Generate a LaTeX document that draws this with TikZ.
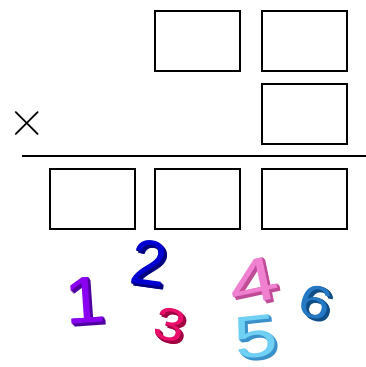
\documentclass[tikz,border=0pt]{standalone}
\usepackage{fontspec}
\newfontfamily\digitfont{Liberation Sans}
\begin{document}
\begin{tikzpicture}[x=1pt,y=-1pt,
  slot/.style={draw=black,line width=1.8pt,minimum width=85pt,minimum height=60pt,inner sep=0pt,anchor=north west},
  dig/.style={inner sep=0pt,font=\digitfont}]
\useasboundingbox (0,0) rectangle (366,367);
% boxes
\node[slot] (a1) at (154,10) {};
\node[slot] (a2) at (261,10) {};
\node[slot] (b2) at (261,83) {};
\node[slot] (c0) at (49,168) {};
\node[slot] (c1) at (154,168) {};
\node[slot] (c2) at (261,168) {};
\coordinate (l0) at (22,156);
\coordinate (l1) at (366,156);
\draw[line width=1.6pt] (l0) -- (l1);
\node[inner sep=0pt,font=\fontsize{52}{52}\selectfont] (times) at (27,124) {×};
% digits with extrusion
\newcommand\xdigit[9]{% name, x, y, size, rotate, front, side, text, xscale
  \foreach \k in {5,4,3,2,1}{
    \node[dig,text=#7,rotate=#5,xscale=#9,font=\digitfont\fontsize{#4}{#4}\selectfont] (#1s\k) at ({#2+0.6*\k},{#3+0.6*\k}) {#8};
  }
  \node[dig,text=#6,rotate=#5,xscale=#9,font=\digitfont\fontsize{#4}{#4}\selectfont] (#1) at (#2,#3) {#8};
}
\definecolor{p1}{HTML}{8A00F0}\definecolor{p1s}{HTML}{5000A0}
\definecolor{p2}{HTML}{0000D0}\definecolor{p2s}{HTML}{000080}
\definecolor{p3}{HTML}{E8106A}\definecolor{p3s}{HTML}{A00040}
\definecolor{p4}{HTML}{F080D0}\definecolor{p4s}{HTML}{C04C98}
\definecolor{p5}{HTML}{70D0F4}\definecolor{p5s}{HTML}{3A90C8}
\definecolor{p6}{HTML}{2478C4}\definecolor{p6s}{HTML}{104E88}
\xdigit{n1}{85}{300}{66}{4}{p1}{p1s}{1}{1.1}
\xdigit{n2}{149}{263}{64}{-8}{p2}{p2s}{2}{1}
\xdigit{n3}{170}{325}{46}{-14}{p3}{p3s}{3}{1.2}
\xdigit{n4}{254}{281}{62}{12}{p4}{p4s}{4}{1.45}
\xdigit{n5}{256}{337}{60}{6}{p5}{p5s}{5}{1.3}
\xdigit{n6}{316}{302}{46}{-18}{p6}{p6s}{6}{1.25}
\end{tikzpicture}
\end{document}
